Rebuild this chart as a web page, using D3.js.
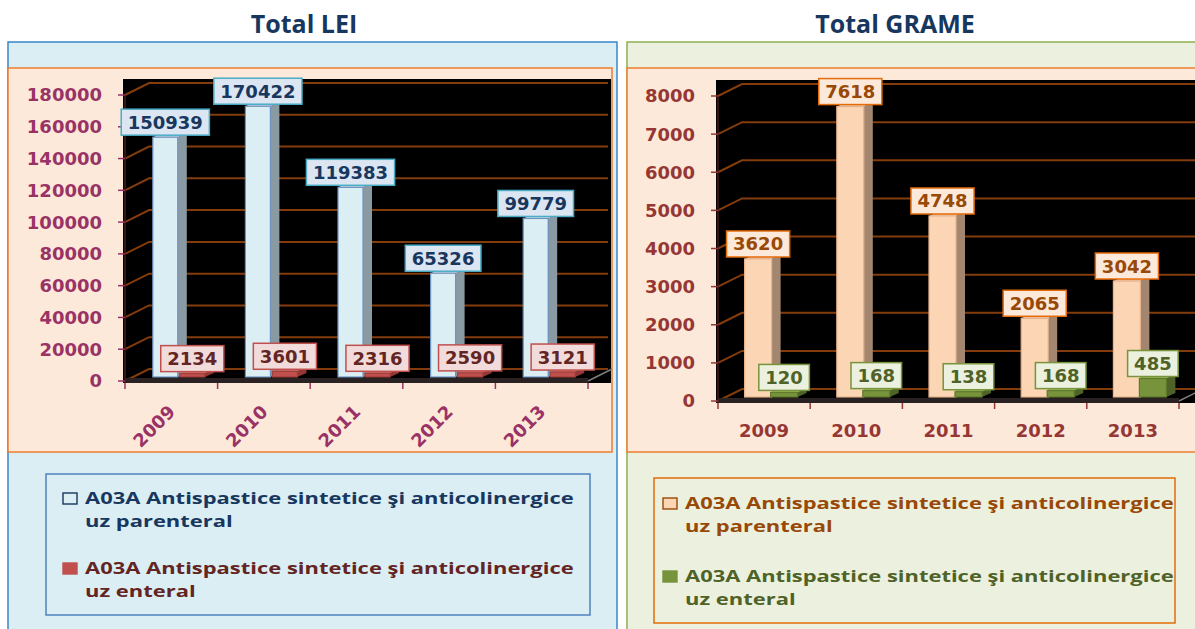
<!DOCTYPE html>
<html>
<head>
<meta charset="utf-8">
<script src="https://cdn.jsdelivr.net/npm/d3@7"></script>
<style>
body { margin: 0; background: #fff; }
svg { display: block; }
</style>
</head>
<body>
<svg id="chart" width="1195" height="629"></svg>
<script>
// data
const years = ["2009", "2010", "2011", "2012", "2013"];
const leiParenteral = [150939, 170422, 119383, 65326, 99779];
const leiEnteral = [2134, 3601, 2316, 2590, 3121];
const grameParenteral = [3620, 7618, 4748, 2065, 3042];
const grameEnteral = [120, 168, 138, 168, 485];
const leiMax = 180000, leiStep = 20000;
const grameMax = 8000, grameStep = 1000;
const seriesNames = ["A03A Antispastice sintetice şi anticolinergice|uz parenteral",
                     "A03A Antispastice sintetice şi anticolinergice|uz enteral"];
const titles = ["Total LEI", "Total GRAME"];

const svg = d3.select("#chart");
const numFont = "'DejaVu Sans', Verdana, sans-serif";
const txtFont = "'Open Sans', 'Noto Sans', sans-serif";

function drawPanel(p) {
  const g = svg.append("g");

  // title
  g.append("text")
    .attr("x", p.titleX).attr("y", 33)
    .attr("text-anchor", "middle")
    .attr("font-family", txtFont).attr("font-weight", 700).attr("font-size", 25)
    .attr("fill", "#17375e")
    .text(p.title);

  // outer box + inner plot box
  g.append("rect").attr("x", p.left).attr("y", 42).attr("width", p.width).attr("height", 600)
    .attr("fill", p.outerFill).attr("stroke", p.outerStroke).attr("stroke-width", 1.5);
  g.append("rect").attr("x", p.left).attr("y", 68).attr("width", p.innerW).attr("height", 384)
    .attr("fill", "#fde9d9").attr("stroke", "#ed7d31").attr("stroke-width", 1.5);

  const x = d3.scaleBand().domain(years).range(p.xRange);
  const y = d3.scaleLinear().domain([0, p.max]).range([p.y0, p.yTop]);
  const ticks = d3.range(0, p.max + 1, p.step);
  const dx = 24, dy = -12;
  const ax = p.xRange[0], y0 = p.y0;
  const plotRight = p.left + p.innerW - 1;

  // black walls
  g.append("rect").attr("x", ax - 2).attr("y", p.yTop - 16)
    .attr("width", plotRight - ax + 2).attr("height", y0 - p.yTop + 18)
    .attr("fill", "#000");

  // gridlines with their short 3D side segments
  g.selectAll("path.grid").data(ticks).join("path")
    .attr("class", "grid")
    .attr("d", t => `M${ax},${y(t)}L${ax + dx},${y(t) + dy}L${plotRight - 3},${y(t) + dy}`)
    .attr("fill", "none").attr("stroke", "#843c0c").attr("stroke-width", 2);

  // floor edge
  g.append("rect").attr("x", ax).attr("y", y0 - 3).attr("width", p.xRange[1] - ax).attr("height", 5)
    .attr("fill", "#2a2222");
  g.append("line").attr("x1", p.xRange[1]).attr("y1", y0).attr("x2", p.xRange[1] + dx).attr("y2", y0 + dy)
    .attr("stroke", "#7f7f7f").attr("stroke-width", 1.5);

  // y axis
  g.append("line").attr("x1", ax).attr("x2", ax).attr("y1", p.yTop).attr("y2", y0 + 2)
    .attr("stroke", "#4a1a1a").attr("stroke-width", 1.5);
  g.selectAll("line.ytick").data(ticks).join("line")
    .attr("class", "ytick")
    .attr("x1", ax - 7).attr("x2", ax).attr("y1", d => y(d)).attr("y2", d => y(d))
    .attr("stroke", p.axisColor).attr("stroke-width", 1.5);
  g.selectAll("text.ylab").data(ticks).join("text")
    .attr("class", "ylab")
    .attr("x", ax - 23).attr("y", d => y(d))
    .attr("dy", "0.36em")
    .attr("text-anchor", "end")
    .attr("font-family", numFont).attr("font-weight", 700).attr("font-size", 18)
    .attr("fill", p.axisColor)
    .text(d => d);

  // x axis ticks at band edges
  const edges = years.map(d => x(d)).concat([p.xRange[1]]);
  g.selectAll("line.xtick").data(edges).join("line")
    .attr("class", "xtick")
    .attr("x1", d => d).attr("x2", d => d).attr("y1", y0 + 2).attr("y2", y0 + 8)
    .attr("stroke", p.axisColor).attr("stroke-width", 1.5);

  const cx = d => x(d) + x.bandwidth() / 2;
  if (p.rotate) {
    g.selectAll("text.xlab").data(years).join("text")
      .attr("class", "xlab")
      .attr("transform", d => `translate(${cx(d) + 5},${y0 + 32}) rotate(-45)`)
      .attr("text-anchor", "end")
      .attr("font-family", numFont).attr("font-weight", 700).attr("font-size", 18)
      .attr("fill", p.axisColor)
      .text(d => d);
  } else {
    g.selectAll("text.xlab").data(years).join("text")
      .attr("class", "xlab")
      .attr("x", d => cx(d)).attr("y", y0 + 36)
      .attr("text-anchor", "middle")
      .attr("font-family", numFont).attr("font-weight", 700).attr("font-size", 18)
      .attr("fill", p.axisColor)
      .text(d => d);
  }

  // 3D bars
  const bdx = 9, bdy = -4, lift = 4;
  p.series.forEach((s, si) => {
    const rows = years.map((yr, i) => ({ yr, v: s.values[i] }));
    const fx = d => cx(d.yr) + s.offset - p.barW / 2;
    const top = d => y(d.v) - lift;
    const bot = y0 - lift;
    const bars = g.append("g").selectAll("g").data(rows).join("g");
    bars.append("path")
      .attr("d", d => `M${fx(d) + p.barW},${top(d)}L${fx(d) + p.barW + bdx},${top(d) + bdy}L${fx(d) + p.barW + bdx},${bot + bdy}L${fx(d) + p.barW},${bot}Z`)
      .attr("fill", s.side);
    bars.append("path")
      .attr("d", d => `M${fx(d)},${top(d)}L${fx(d) + bdx},${top(d) + bdy}L${fx(d) + p.barW + bdx},${top(d) + bdy}L${fx(d) + p.barW},${top(d)}Z`)
      .attr("fill", s.topFill);
    bars.append("rect")
      .attr("x", fx).attr("y", top)
      .attr("width", p.barW).attr("height", d => bot - top(d))
      .attr("fill", s.front).attr("stroke", s.edge).attr("stroke-width", 1.2);
  });

  // value labels (drawn after all bars)
  p.series.forEach(s => {
    const rows = years.map((yr, i) => ({ yr, v: s.values[i] }));
    const lab = g.append("g").selectAll("g").data(rows).join("g")
      .attr("transform", d => `translate(${cx(d.yr) + s.offset},${y(d.v) - 4 - 2 - 13})`);
    const box = lab.append("rect");
    const txt = lab.append("text")
      .attr("text-anchor", "middle").attr("dy", "0.36em")
      .attr("font-family", numFont).attr("font-weight", 700).attr("font-size", 18)
      .attr("fill", s.labelText)
      .text(d => d.v);
    box.each(function (d, i) {
      const w = txt.nodes()[i].getComputedTextLength() + 13;
      d3.select(this).attr("x", -w / 2).attr("y", -13).attr("width", w).attr("height", 26)
        .attr("fill", s.labelFill).attr("stroke", s.labelStroke).attr("stroke-width", 1.5);
    });
  });

  // legend (the source text is drawn stretched sideways)
  const L = p.legend;
  g.append("rect").attr("x", L.x).attr("y", L.y).attr("width", L.w).attr("height", L.h)
    .attr("fill", "none").attr("stroke", L.stroke).attr("stroke-width", 1.5);
  p.series.forEach((s, si) => {
    const lines = seriesNames[si].split("|");
    const by = L.firstBase + si * L.entryGap;
    g.append("rect").attr("x", L.x + L.markDx).attr("y", by - 11).attr("width", 14).attr("height", 11)
      .attr("fill", s.legendMark).attr("stroke", s.legendMarkStroke).attr("stroke-width", 1.4);
    lines.forEach((ln, li) => {
      g.append("text")
        .attr("transform", `translate(${L.x + L.textDx},${by + li * 23}) scale(1.33,1)`)
        .attr("font-family", txtFont).attr("font-weight", 700).attr("font-size", 16.5)
        .attr("fill", s.legendText)
        .text(ln);
    });
  });
}

drawPanel({
  title: titles[0], titleX: 304,
  left: 8, width: 609, innerW: 604,
  outerFill: "#dbeef4", outerStroke: "#3a86c8",
  xRange: [125, 588], y0: 381, yTop: 95, max: leiMax, step: leiStep,
  axisColor: "#993366", rotate: true, barW: 25,
  series: [
    { values: leiParenteral, offset: -6, front: "#dbeef4", edge: "#6f93c0", side: "#8a9aa3", topFill: "#c5d9e8",
      labelFill: "#dce6f2", labelStroke: "#4bacc6", labelText: "#17375e",
      legendMark: "#dbeef4", legendMarkStroke: "#17375e", legendText: "#17375e" },
    { values: leiEnteral, offset: 21, front: "#c0504d", edge: "#a0403d", side: "#953735", topFill: "#d46e6a",
      labelFill: "#f2dcdb", labelStroke: "#c0504d", labelText: "#632523",
      legendMark: "#c0504d", legendMarkStroke: "#c0504d", legendText: "#632523" }
  ],
  legend: { x: 46, y: 474, w: 544, h: 141, stroke: "#4f81bd", firstBase: 504, entryGap: 70, markDx: 17, textDx: 39 }
});

drawPanel({
  title: titles[1], titleX: 895,
  left: 627, width: 580, innerW: 575,
  outerFill: "#ebf1de", outerStroke: "#8db050",
  xRange: [718, 1179], y0: 401, yTop: 96, max: grameMax, step: grameStep,
  axisColor: "#953735", rotate: false, barW: 27,
  series: [
    { values: grameParenteral, offset: -6, front: "#fcd5b5", edge: "#e8b48e", side: "#a3866f", topFill: "#f0c4a2",
      labelFill: "#fde9d9", labelStroke: "#e46c0a", labelText: "#984807",
      legendMark: "#fcd5b5", legendMarkStroke: "#984807", legendText: "#984807" },
    { values: grameEnteral, offset: 20, front: "#77933c", edge: "#5f7a2c", side: "#4f6228", topFill: "#9bbb59",
      labelFill: "#ebf1de", labelStroke: "#77933c", labelText: "#4f6228",
      legendMark: "#77933c", legendMarkStroke: "#77933c", legendText: "#4f6228" }
  ],
  legend: { x: 654, y: 478, w: 521, h: 145, stroke: "#e46c0a", firstBase: 509, entryGap: 73, markDx: 9, textDx: 31 }
});
</script>
</body>
</html>
